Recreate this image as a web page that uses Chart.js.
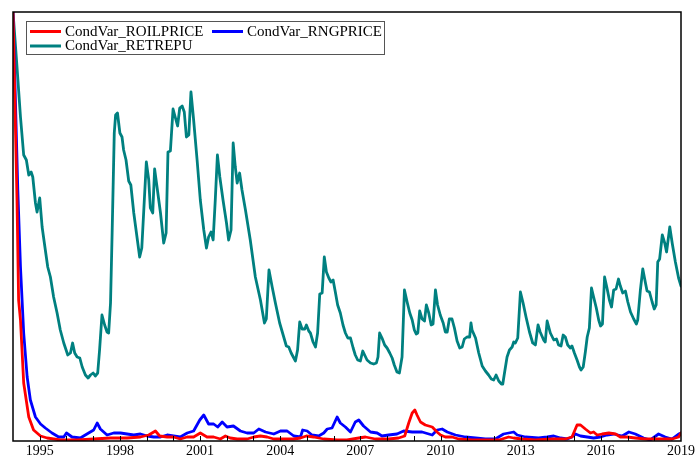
<!DOCTYPE html>
<html>
<head>
<meta charset="utf-8">
<script src="https://cdn.jsdelivr.net/npm/chart.js@4.4.0/dist/chart.umd.min.js"></script>
<style>
html, body { margin: 0; padding: 0; background: #fff; }
#grafico { display: block; }
</style>
</head>
<body>
<canvas id="grafico" width="695" height="458"></canvas>
<script>
// conditional variances, monthly, 1994 - 2019 (decimal years)
const tituloSeries = ['CondVar_ROILPRICE', 'CondVar_RNGPRICE', 'CondVar_RETREPU'];

const oilYears = [1994.00,1994.07,1994.15,1994.21,1994.28,1994.40,1994.59,1994.77,1995.03,1995.28,
  1995.77,1996.40,1997.02,1997.65,1998.27,1998.77,1999.08,1999.33,1999.49,1999.77,
  2000.01,2000.26,2000.52,2000.76,2001.01,2001.26,2001.51,2001.76,2001.95,2002.13,
  2002.39,2002.76,2003.01,2003.26,2003.51,2003.76,2004.13,2004.51,2004.76,2004.98,
  2005.25,2005.63,2006.13,2006.50,2006.94,2007.19,2007.56,2008.06,2008.43,2008.66,
  2008.81,2008.94,2009.04,2009.12,2009.25,2009.43,2009.69,2009.87,2010.00,2010.18,
  2010.43,2010.68,2011.18,2011.68,2012.18,2012.55,2012.74,2013.05,2013.55,2014.18,
  2014.67,2014.92,2015.11,2015.24,2015.42,2015.61,2015.73,2015.86,2016.05,2016.30,
  2016.55,2016.73,2016.98,2017.29,2017.67,2018.16,2018.67,2018.91,2019.00];
const oilValues = [4.29,3.41,2.41,1.41,1.21,0.58,0.24,0.11,0.05,0.03,
  0.01,0.01,0.02,0.03,0.03,0.04,0.06,0.10,0.05,0.04,
  0.04,0.02,0.04,0.04,0.08,0.04,0.04,0.02,0.05,0.03,
  0.02,0.02,0.04,0.05,0.04,0.02,0.02,0.02,0.03,0.05,
  0.04,0.02,0.01,0.01,0.03,0.04,0.02,0.02,0.03,0.05,
  0.18,0.28,0.31,0.26,0.19,0.16,0.14,0.09,0.06,0.04,
  0.04,0.02,0.01,0.01,0.01,0.04,0.03,0.02,0.01,0.02,
  0.02,0.04,0.16,0.16,0.12,0.08,0.09,0.06,0.07,0.08,
  0.07,0.04,0.04,0.03,0.02,0.02,0.02,0.04,0.08];

const gasYears = [1994.00,1994.09,1994.18,1994.28,1994.40,1994.53,1994.65,1994.84,1995.03,1995.21,
  1995.46,1995.71,1995.90,1996.00,1996.21,1996.52,1996.83,1997.02,1997.15,1997.27,
  1997.52,1997.77,1998.02,1998.27,1998.52,1998.77,1999.02,1999.27,1999.52,1999.77,
  2000.01,2000.26,2000.52,2000.76,2000.99,2001.14,2001.32,2001.51,2001.66,2001.83,
  2002.01,2002.25,2002.51,2002.76,2003.01,2003.20,2003.45,2003.76,2004.01,2004.26,
  2004.51,2004.76,2004.84,2005.01,2005.19,2005.44,2005.63,2005.76,2005.94,2006.13,
  2006.25,2006.44,2006.63,2006.81,2006.94,2007.12,2007.38,2007.63,2007.81,2008.06,
  2008.37,2008.62,2008.94,2009.31,2009.69,2009.87,2010.06,2010.25,2010.56,2010.93,
  2011.31,2011.68,2012.05,2012.36,2012.55,2012.74,2012.87,2013.18,2013.67,2013.99,
  2014.24,2014.49,2014.74,2014.92,2015.05,2015.24,2015.49,2015.73,2015.98,2016.23,
  2016.48,2016.80,2017.05,2017.29,2017.60,2017.85,2018.16,2018.41,2018.66,2018.91,
  2019.00];
const gasValues = [4.29,3.41,2.51,1.74,1.08,0.64,0.41,0.24,0.17,0.13,
  0.08,0.04,0.04,0.08,0.04,0.03,0.08,0.11,0.18,0.12,
  0.06,0.08,0.08,0.07,0.06,0.07,0.05,0.04,0.04,0.06,
  0.05,0.04,0.08,0.10,0.21,0.26,0.17,0.17,0.14,0.19,
  0.14,0.15,0.10,0.08,0.08,0.12,0.09,0.07,0.10,0.10,
  0.05,0.04,0.11,0.10,0.06,0.05,0.08,0.12,0.13,0.24,
  0.18,0.14,0.09,0.19,0.21,0.15,0.09,0.08,0.05,0.06,
  0.07,0.10,0.09,0.09,0.06,0.11,0.12,0.09,0.06,0.04,
  0.03,0.02,0.02,0.07,0.08,0.09,0.06,0.04,0.03,0.04,
  0.05,0.03,0.02,0.04,0.07,0.05,0.04,0.03,0.04,0.06,
  0.07,0.05,0.09,0.07,0.03,0.01,0.07,0.04,0.02,0.07,
  0.08];

const epuYears = [1994.00,1994.15,1994.28,1994.40,1994.50,1994.59,1994.68,1994.74,1994.84,1994.90,
  1995.00,1995.09,1995.21,1995.30,1995.40,1995.52,1995.65,1995.77,1995.90,1996.05,
  1996.15,1996.23,1996.31,1996.40,1996.50,1996.59,1996.71,1996.81,1996.90,1997.00,
  1997.08,1997.17,1997.24,1997.33,1997.43,1997.52,1997.58,1997.65,1997.71,1997.79,
  1997.84,1997.91,1998.00,1998.08,1998.14,1998.23,1998.33,1998.41,1998.52,1998.62,
  1998.74,1998.82,1998.99,1999.08,1999.14,1999.23,1999.30,1999.39,1999.52,1999.64,
  1999.73,1999.80,1999.89,1999.99,2000.08,2000.16,2000.24,2000.33,2000.41,2000.49,
  2000.58,2000.66,2000.76,2000.89,2001.01,2001.14,2001.24,2001.32,2001.41,2001.49,
  2001.57,2001.65,2001.74,2001.86,2001.99,2002.07,2002.16,2002.24,2002.32,2002.39,
  2002.48,2002.57,2002.70,2002.88,2003.07,2003.26,2003.41,2003.48,2003.58,2003.70,
  2003.82,2003.98,2004.23,2004.32,2004.41,2004.57,2004.65,2004.73,2004.82,2004.92,
  2004.98,2005.07,2005.13,2005.23,2005.32,2005.40,2005.48,2005.57,2005.65,2005.73,
  2005.82,2005.90,2005.98,2006.07,2006.15,2006.25,2006.35,2006.44,2006.53,2006.63,
  2006.73,2006.81,2006.90,2007.00,2007.09,2007.16,2007.25,2007.38,2007.50,2007.60,
  2007.66,2007.72,2007.81,2007.91,2008.00,2008.10,2008.19,2008.27,2008.37,2008.46,
  2008.56,2008.65,2008.75,2008.85,2008.94,2009.02,2009.09,2009.15,2009.22,2009.31,
  2009.40,2009.47,2009.56,2009.65,2009.72,2009.81,2009.89,2009.99,2010.10,2010.18,
  2010.25,2010.33,2010.43,2010.52,2010.62,2010.72,2010.81,2010.89,2010.99,2011.09,
  2011.14,2011.18,2011.31,2011.43,2011.56,2011.68,2011.80,2011.90,2011.99,2012.08,
  2012.18,2012.28,2012.33,2012.40,2012.49,2012.58,2012.68,2012.74,2012.80,2012.89,
  2012.99,2013.09,2013.20,2013.33,2013.45,2013.55,2013.65,2013.73,2013.86,2013.92,
  2013.99,2014.11,2014.24,2014.34,2014.42,2014.51,2014.59,2014.67,2014.76,2014.86,
  2014.92,2015.01,2015.11,2015.20,2015.26,2015.34,2015.42,2015.49,2015.57,2015.65,
  2015.73,2015.83,2015.92,2015.99,2016.06,2016.14,2016.23,2016.32,2016.40,2016.48,
  2016.57,2016.66,2016.73,2016.82,2016.92,2017.01,2017.11,2017.23,2017.33,2017.38,
  2017.48,2017.57,2017.67,2017.73,2017.82,2017.92,2018.00,2018.07,2018.13,2018.20,
  2018.30,2018.39,2018.46,2018.58,2018.67,2018.79,2018.91,2019.00];
const epuValues = [4.29,3.74,3.24,2.86,2.81,2.66,2.69,2.64,2.38,2.29,
  2.43,2.14,1.91,1.74,1.64,1.44,1.28,1.11,0.98,0.86,
  0.88,0.98,0.88,0.84,0.83,0.74,0.66,0.63,0.66,0.68,
  0.65,0.68,0.91,1.26,1.16,1.09,1.08,1.38,2.08,3.08,
  3.26,3.28,3.08,3.04,2.91,2.81,2.60,2.56,2.28,2.08,
  1.84,1.93,2.79,2.61,2.33,2.28,2.72,2.54,2.28,1.98,
  2.08,2.89,2.90,3.32,3.23,3.15,3.33,3.35,3.29,3.04,
  3.06,3.49,3.21,2.81,2.41,2.11,1.93,2.04,2.09,2.01,
  2.41,2.86,2.64,2.41,2.18,2.01,2.11,2.98,2.74,2.58,
  2.68,2.51,2.31,2.01,1.64,1.41,1.18,1.22,1.71,1.54,
  1.38,1.18,0.95,0.94,0.88,0.80,0.91,1.19,1.12,1.12,
  1.16,1.10,1.08,0.99,0.94,1.08,1.47,1.48,1.84,1.69,
  1.63,1.59,1.61,1.48,1.36,1.28,1.16,1.08,1.03,1.03,
  0.93,0.86,0.81,0.80,0.90,0.86,0.81,0.78,0.77,0.78,
  0.84,1.08,1.03,0.96,0.93,0.88,0.83,0.76,0.69,0.68,
  0.84,1.51,1.39,1.28,1.21,1.11,1.07,1.08,1.30,1.22,
  1.20,1.36,1.28,1.16,1.17,1.51,1.36,1.26,1.18,1.09,
  1.09,1.22,1.22,1.13,1.00,0.93,0.94,1.02,1.04,1.04,
  1.18,1.11,1.03,0.88,0.75,0.70,0.66,0.62,0.61,0.66,
  0.60,0.57,0.57,0.69,0.84,0.91,0.94,0.99,0.98,1.03,
  1.49,1.38,1.24,1.09,0.98,0.96,1.16,1.09,1.01,0.99,
  1.20,1.08,1.01,1.02,0.96,0.95,1.06,1.04,0.96,0.93,
  0.95,0.88,0.81,0.74,0.71,0.74,0.89,1.04,1.13,1.53,
  1.44,1.33,1.21,1.15,1.17,1.64,1.53,1.41,1.34,1.51,
  1.52,1.62,1.55,1.48,1.50,1.39,1.29,1.22,1.17,1.21,
  1.51,1.72,1.58,1.50,1.49,1.39,1.32,1.36,1.79,1.82,
  2.06,1.98,1.89,2.14,1.98,1.79,1.63,1.55];

const anoInicial = 1994;
const anoFinal = 2019;
const rotulosAnos = [1995, 1998, 2001, 2004, 2007, 2010, 2013, 2016, 2019];

const fonteSerif = '"Liberation Serif", "Times New Roman", serif';

function pares(anos, valores) {
    return anos.map((ano, i) => ({ x: ano, y: valores[i] }));
}

// moldura preta em volta da area do grafico, com marcas anuais por dentro
const moldura = {
    id: 'moldura',
    afterDatasetsDraw(chart) {
        const { ctx, chartArea } = chart;
        const escalaX = chart.scales.x;
        ctx.save();
        ctx.strokeStyle = '#000';
        ctx.lineWidth = 1.5;
        ctx.strokeRect(chartArea.left, chartArea.top, chartArea.right - chartArea.left, chartArea.bottom - chartArea.top);
        ctx.lineWidth = 1;
        for (let ano = anoInicial + 1; ano < anoFinal; ano++) {
            const x = Math.round(escalaX.getPixelForValue(ano)) + 0.5;
            ctx.beginPath();
            ctx.moveTo(x, chartArea.bottom);
            ctx.lineTo(x, chartArea.bottom - 5);
            ctx.stroke();
        }
        ctx.restore();
    }
};

// legenda dentro do grafico, com caixa cinza
const legendaCaixa = {
    id: 'legendaCaixa',
    afterDraw(chart) {
        const { ctx, chartArea } = chart;
        const sets = chart.data.datasets;
        const x0 = chartArea.left + 13;
        const y0 = chartArea.top + 9;
        const posicoes = [
            { x: x0 + 4, y: y0 + 10.5 },
            { x: x0 + 186, y: y0 + 10.5 },
            { x: x0 + 4, y: y0 + 25 },
        ];
        ctx.save();
        ctx.fillStyle = '#fff';
        ctx.fillRect(x0, y0, 358, 33);
        ctx.strokeStyle = '#555';
        ctx.lineWidth = 1;
        ctx.strokeRect(x0 + 0.5, y0 + 0.5, 358, 33);
        ctx.font = '15px ' + fonteSerif;
        ctx.textBaseline = 'middle';
        sets.forEach((ds, i) => {
            const p = posicoes[i];
            ctx.strokeStyle = ds.borderColor;
            ctx.lineWidth = 3;
            ctx.beginPath();
            ctx.moveTo(p.x, p.y);
            ctx.lineTo(p.x + 31, p.y);
            ctx.stroke();
            ctx.fillStyle = '#000';
            ctx.fillText(ds.label, p.x + 35, p.y + 0.5);
        });
        ctx.restore();
    }
};

const canvas_grafico = document.getElementById('grafico');
const ctx = canvas_grafico.getContext('2d');

new Chart(ctx, {
    type: 'line',
    data: {
        datasets: [
            {
                label: tituloSeries[0],
                data: pares(oilYears, oilValues),
                borderColor: '#ff0000',
                borderWidth: 2.8,
            },
            {
                label: tituloSeries[1],
                data: pares(gasYears, gasValues),
                borderColor: '#0000ff',
                borderWidth: 2.8,
            },
            {
                label: tituloSeries[2],
                data: pares(epuYears, epuValues),
                borderColor: '#008080',
                borderWidth: 2.8,
            },
        ],
    },
    options: {
        responsive: false,
        animation: false,
        layout: {
            padding: { left: 13, right: 14, top: 12, bottom: 0 },
        },
        elements: {
            point: { radius: 0 },
            line: { tension: 0, borderJoinStyle: 'round', borderCapStyle: 'round' },
        },
        plugins: {
            legend: { display: false },
            tooltip: { enabled: false },
        },
        scales: {
            x: {
                type: 'linear',
                min: anoInicial,
                max: anoFinal,
                grid: { display: false, drawTicks: false },
                border: { display: false },
                afterFit(escala) {
                    // eixo baixo e sem folga lateral para o rotulo 2019
                    escala.height = 17;
                    escala.paddingLeft = 0;
                    escala.paddingRight = 0;
                },
                ticks: {
                    stepSize: 1,
                    autoSkip: false,
                    maxRotation: 0,
                    padding: 3,
                    color: '#000',
                    font: { family: fonteSerif, size: 14, lineHeight: 1 },
                    callback: (valor) => rotulosAnos.includes(valor) ? String(valor) : '',
                },
            },
            y: {
                display: false,
                min: 0,
                max: 4.29,
            },
        },
    },
    plugins: [moldura, legendaCaixa],
});
</script>
</body>
</html>
